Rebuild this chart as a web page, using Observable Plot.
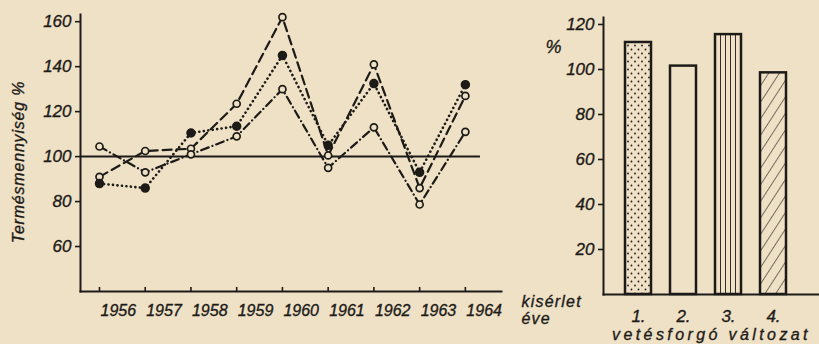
<!DOCTYPE html>
<html><head><meta charset="utf-8">
<script src="https://cdn.jsdelivr.net/npm/d3@7"></script>
<script src="https://cdn.jsdelivr.net/npm/@observablehq/plot@0.6"></script>
<style>
html,body{margin:0;padding:0;background:#efe1c6;}
#wrap{position:relative;width:819px;height:344px;overflow:hidden;}
#wrap > svg{position:absolute;left:0;top:0;margin:0;}
#wrap text{stroke:#1d1b18;stroke-width:0.35px;}
</style></head><body>
<svg width="0" height="0" style="position:absolute">
<defs>
<pattern id="dots" width="7" height="8" patternUnits="userSpaceOnUse">
<circle cx="1.5" cy="1.5" r="0.9" fill="#1d1b18"/>
<circle cx="5" cy="5.5" r="0.9" fill="#1d1b18"/>
</pattern>
<pattern id="vlines" width="5" height="10" patternUnits="userSpaceOnUse">
<line x1="0.5" y1="0" x2="0.5" y2="10" stroke="#1d1b18" stroke-width="0.9"/>
</pattern>
<pattern id="hatch" width="9" height="10" patternUnits="userSpaceOnUse" patternTransform="rotate(33)">
<line x1="0" y1="0" x2="0" y2="10" stroke="#1d1b18" stroke-width="1.2"/>
</pattern>
</defs></svg>
<div id="wrap"></div>
<script>
// ---- data ----
const years = [1956, 1957, 1958, 1959, 1960, 1961, 1962, 1963, 1964];
const seriesDashed  = [91, 102.5, 103.5, 123.5, 162, 100.5, 141, 86, 127];
const seriesDotted  = [88, 86, 110.5, 113.5, 145, 105, 132.5, 93, 132];
const seriesDashDot = [104.5, 93, 101, 109, 130, 95, 113, 78.7, 111];
const yTicksLeft = [60, 80, 100, 120, 140, 160];
const baseline = 100;
const barLabels = ["1.", "2.", "3.", "4."];
const barValues = [112, 101.5, 115.5, 98.5];
const yTicksRight = [20, 40, 60, 80, 100, 120];

// ---- style ----
const ink = "#1d1b18";
const paper = "#efe1c6";
const font = "'Liberation Sans', Arial, sans-serif";
const barFill = {"1.": "url(#dots)", "2.": paper, "3.": "url(#vlines)", "4.": "url(#hatch)"};
const xDomL = [1955.585, 1964.79];
const yDomL = [40, 163.2];

const rows = vals => years.map((year, i) => ({year, value: vals[i]}));
const dashed = rows(seriesDashed), dotted = rows(seriesDotted), dashdot = rows(seriesDashDot);
const bars = barLabels.map((label, i) => ({label, value: barValues[i]}));

const svgStyle = {background: "transparent", fontFamily: font, fontSize: "16px", fontStyle: "italic", color: ink, overflow: "visible"};

const left = Plot.plot({
  width: 819, height: 344, marginLeft: 80, marginRight: 318, marginTop: 14, marginBottom: 53,
  style: svgStyle,
  x: {domain: xDomL},
  y: {domain: yDomL},
  marks: [
    Plot.frame({anchor: "left", strokeWidth: 2, stroke: ink}),
    Plot.frame({anchor: "bottom", strokeWidth: 2, stroke: ink}),
    Plot.axisY({ticks: yTicksLeft, tickSize: 5, tickPadding: 4, strokeWidth: 1.6, label: null, fontSize: 17}),
    Plot.axisX({ticks: years, tickFormat: d => String(d), tickSize: 0, tickPadding: 13, textAnchor: "start", dx: 1, label: null, fontSize: 16}),
    Plot.ruleX(years, {y1: yDomL[0], y2: yDomL[0] + 1.8, strokeWidth: 1.6, stroke: ink}),
    Plot.ruleY([baseline], {x1: xDomL[0], x2: 1964.33, strokeWidth: 2, stroke: ink}),
    Plot.line(dashed, {x: "year", y: "value", stroke: ink, strokeWidth: 2.2, strokeDasharray: "9,5"}),
    Plot.line(dotted, {x: "year", y: "value", stroke: ink, strokeWidth: 2.6, strokeDasharray: "0.1,4.4", strokeLinecap: "round"}),
    Plot.line(dashdot, {x: "year", y: "value", stroke: ink, strokeWidth: 2.2, strokeDasharray: "8,4,0.1,4", strokeLinecap: "round"}),
    Plot.dot(dashed, {x: "year", y: "value", r: 3.5, fill: paper, stroke: ink, strokeWidth: 1.7}),
    Plot.dot(dashdot, {x: "year", y: "value", r: 3.5, fill: paper, stroke: ink, strokeWidth: 1.7}),
    Plot.dot(dotted, {x: "year", y: "value", r: 4, fill: ink, stroke: ink}),
    Plot.text(["Termésmennyiség %"], {frameAnchor: "left", textAnchor: "middle", lineAnchor: "middle", dx: -62, dy: 9, rotate: -90, fontSize: 16, fill: ink}),
    Plot.text(["kisérlet\néve"], {frameAnchor: "bottom-right", dx: 20, dy: 4, textAnchor: "start", lineAnchor: "top", fontSize: 16, lineHeight: 1.05, fill: ink})
  ]
});

const right = Plot.plot({
  width: 819, height: 344, marginLeft: 603, marginRight: 0, marginTop: 17, marginBottom: 50,
  style: svgStyle,
  x: {type: "band", domain: barLabels, range: [623, 787], paddingInner: 0.43, paddingOuter: 0},
  y: {domain: [0, 123.1]},
  color: {type: "identity"},
  marks: [
    Plot.barY(bars, {x: "label", y: "value", fill: d => barFill[d.label], stroke: ink, strokeWidth: 2.5}),
    Plot.frame({anchor: "left", strokeWidth: 2, stroke: ink}),
    Plot.frame({anchor: "bottom", strokeWidth: 2, stroke: ink}),
    Plot.axisY({ticks: yTicksRight, tickSize: 5, tickPadding: 4, strokeWidth: 1.6, label: null, fontSize: 17}),
    Plot.axisX({tickSize: 0, tickPadding: 15, label: null, fontSize: 17}),
    Plot.text(["%"], {frameAnchor: "top-left", textAnchor: "middle", lineAnchor: "middle", dx: -50, dy: 30, fontSize: 18, fill: ink}),
    Plot.text(["vetésforgó változat"], {frameAnchor: "bottom", textAnchor: "middle", lineAnchor: "middle", dy: 40, fontSize: 16, fill: ink})
  ]
});

const wrap = document.getElementById("wrap");
wrap.appendChild(left);
wrap.appendChild(right);
const spacing = (svg, prefix, px) => d3.select(svg).selectAll("text")
  .filter(function () { return this.textContent.startsWith(prefix); })
  .style("letter-spacing", px);
spacing(left, "Termés", "0.8px");
spacing(left, "kisérlet", "1.2px");
spacing(right, "vetés", "3.4px");
</script>
</body></html>
